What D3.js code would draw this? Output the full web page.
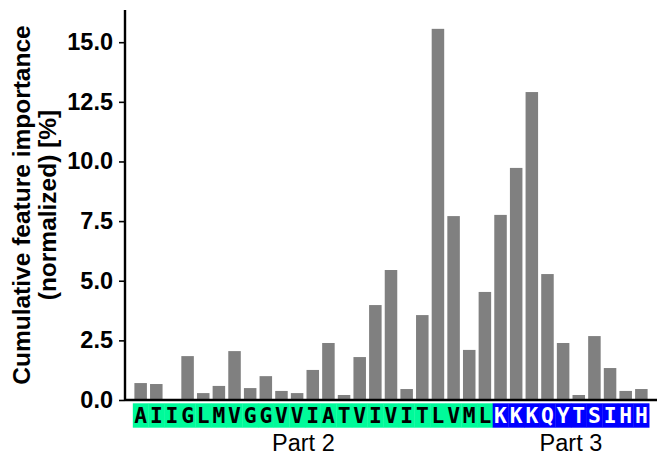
<!DOCTYPE html>
<html>
<head>
<meta charset="utf-8">
<script src="https://cdn.jsdelivr.net/npm/d3@7"></script>
<style>
  body { margin: 0; background: #fff; }
</style>
</head>
<body>
<div id="chart"></div>
<script>
// residues (x categories) and their part
const residues = "AIIGLMVGGVVIATVIVITLVMLKKKQYTSIHH".split("")
const residuePart = [
  2,2,2,2,2,2,2,2,2,2,2,2,2,2,2,2,2,2,2,2,2,2,2,
  3,3,3,3,3,3,3,3,3,3
]
// cumulative importance, normalized [%]
const importance = [
  0.71, 0.67, 0.04, 1.84, 0.29, 0.59, 2.05, 0.50, 1.00, 0.38, 0.29,
  1.26, 2.39, 0.21, 1.80, 3.98, 5.45, 0.46, 3.56, 15.56, 7.71, 2.10,
  4.53, 7.76, 9.73, 12.91, 5.28, 2.39, 0.21, 2.68, 1.34, 0.38, 0.46
]
const yTicks = [0, 2.5, 5, 7.5, 10, 12.5, 15]
const partNames = ["Part 2", "Part 3"]
const partCenters = [10.4, 27.5]   // in residue-index units

const width = 666
const height = 466
const margin = {left: 125, right: 9, top: 10, bottom: 66}

const svg = d3.select("#chart")
  .append("svg")
  .attr("width", width)
  .attr("height", height)

const x = d3.scaleLinear()
  .domain([-1, residues.length])
  .range([margin.left, width - margin.right])

const y = d3.scaleLinear()
  .domain([0, 16.35])
  .range([height - margin.bottom, margin.top])

// bars
svg.append("g")
  .selectAll("rect")
  .data(importance)
  .join("rect")
  .attr("x", (d, i) => x(i - 0.4))
  .attr("width", x(0.8) - x(0))
  .attr("y", d => y(d))
  .attr("height", d => y(0) - y(d))
  .attr("fill", "#808080")

// left axis
const yAxis = svg.append("g")
  .attr("transform", `translate(${margin.left}, 0)`)
  .call(d3.axisLeft(y)
    .tickValues(yTicks)
    .tickFormat(d3.format(".1f"))
    .tickSize(6)
    .tickPadding(6))
yAxis.select(".domain")
  .attr("d", `M0,${y(0)}V${margin.top}`)
  .attr("stroke-width", 2.4)
yAxis.selectAll(".tick line").attr("stroke-width", 1.6)
yAxis.selectAll(".tick text")
  .attr("font-family", "Liberation Sans, Arial, sans-serif")
  .attr("font-size", 23.5)
  .attr("font-weight", "bold")
  .attr("fill", "#000")

// bottom spine
svg.append("line")
  .attr("x1", margin.left)
  .attr("x2", width - margin.right)
  .attr("y1", y(0))
  .attr("y2", y(0))
  .attr("stroke", "#000")
  .attr("stroke-width", 2.4)

// residue labels with coloured boxes
const partColor = {2: "#00fa9a", 3: "#0000ff"}
const partText = {2: "#000", 3: "#fff"}
const lab = svg.append("g")
lab.selectAll("rect")
  .data(residues)
  .join("rect")
  .attr("x", (d, i) => x(i - 0.5))
  .attr("width", x(1) - x(0) + 0.3)
  .attr("y", y(0) + 3.3)
  .attr("height", 24.4)
  .attr("fill", (d, i) => partColor[residuePart[i]])
lab.selectAll("text")
  .data(residues)
  .join("text")
  .attr("x", (d, i) => x(i))
  .attr("y", y(0) + 22.5)
  .attr("text-anchor", "middle")
  .attr("font-family", "DejaVu Sans Mono, monospace")
  .attr("font-weight", "bold")
  .attr("font-size", 21.3)
  .attr("fill", (d, i) => partText[residuePart[i]])
  .text(d => d)

// part names
svg.append("g")
  .selectAll("text")
  .data(partNames)
  .join("text")
  .attr("x", (d, i) => x(partCenters[i]))
  .attr("y", 451)
  .attr("text-anchor", "middle")
  .attr("font-family", "Liberation Sans, Arial, sans-serif")
  .attr("font-size", 23.5)
  .attr("fill", "#000")
  .text(d => d)

// y label
const yl = svg.append("text")
  .attr("transform", `translate(0, 205) rotate(-90)`)
  .attr("text-anchor", "middle")
  .attr("font-family", "Liberation Sans, Arial, sans-serif")
  .attr("font-size", 24.5)
  .attr("font-weight", "bold")
  .attr("fill", "#000")
yl.append("tspan").attr("x", 0).attr("y", 30).text("Cumulative feature importance")
yl.append("tspan").attr("x", 0).attr("y", 56).text("(normalized) [%]")
</script>
</body>
</html>
